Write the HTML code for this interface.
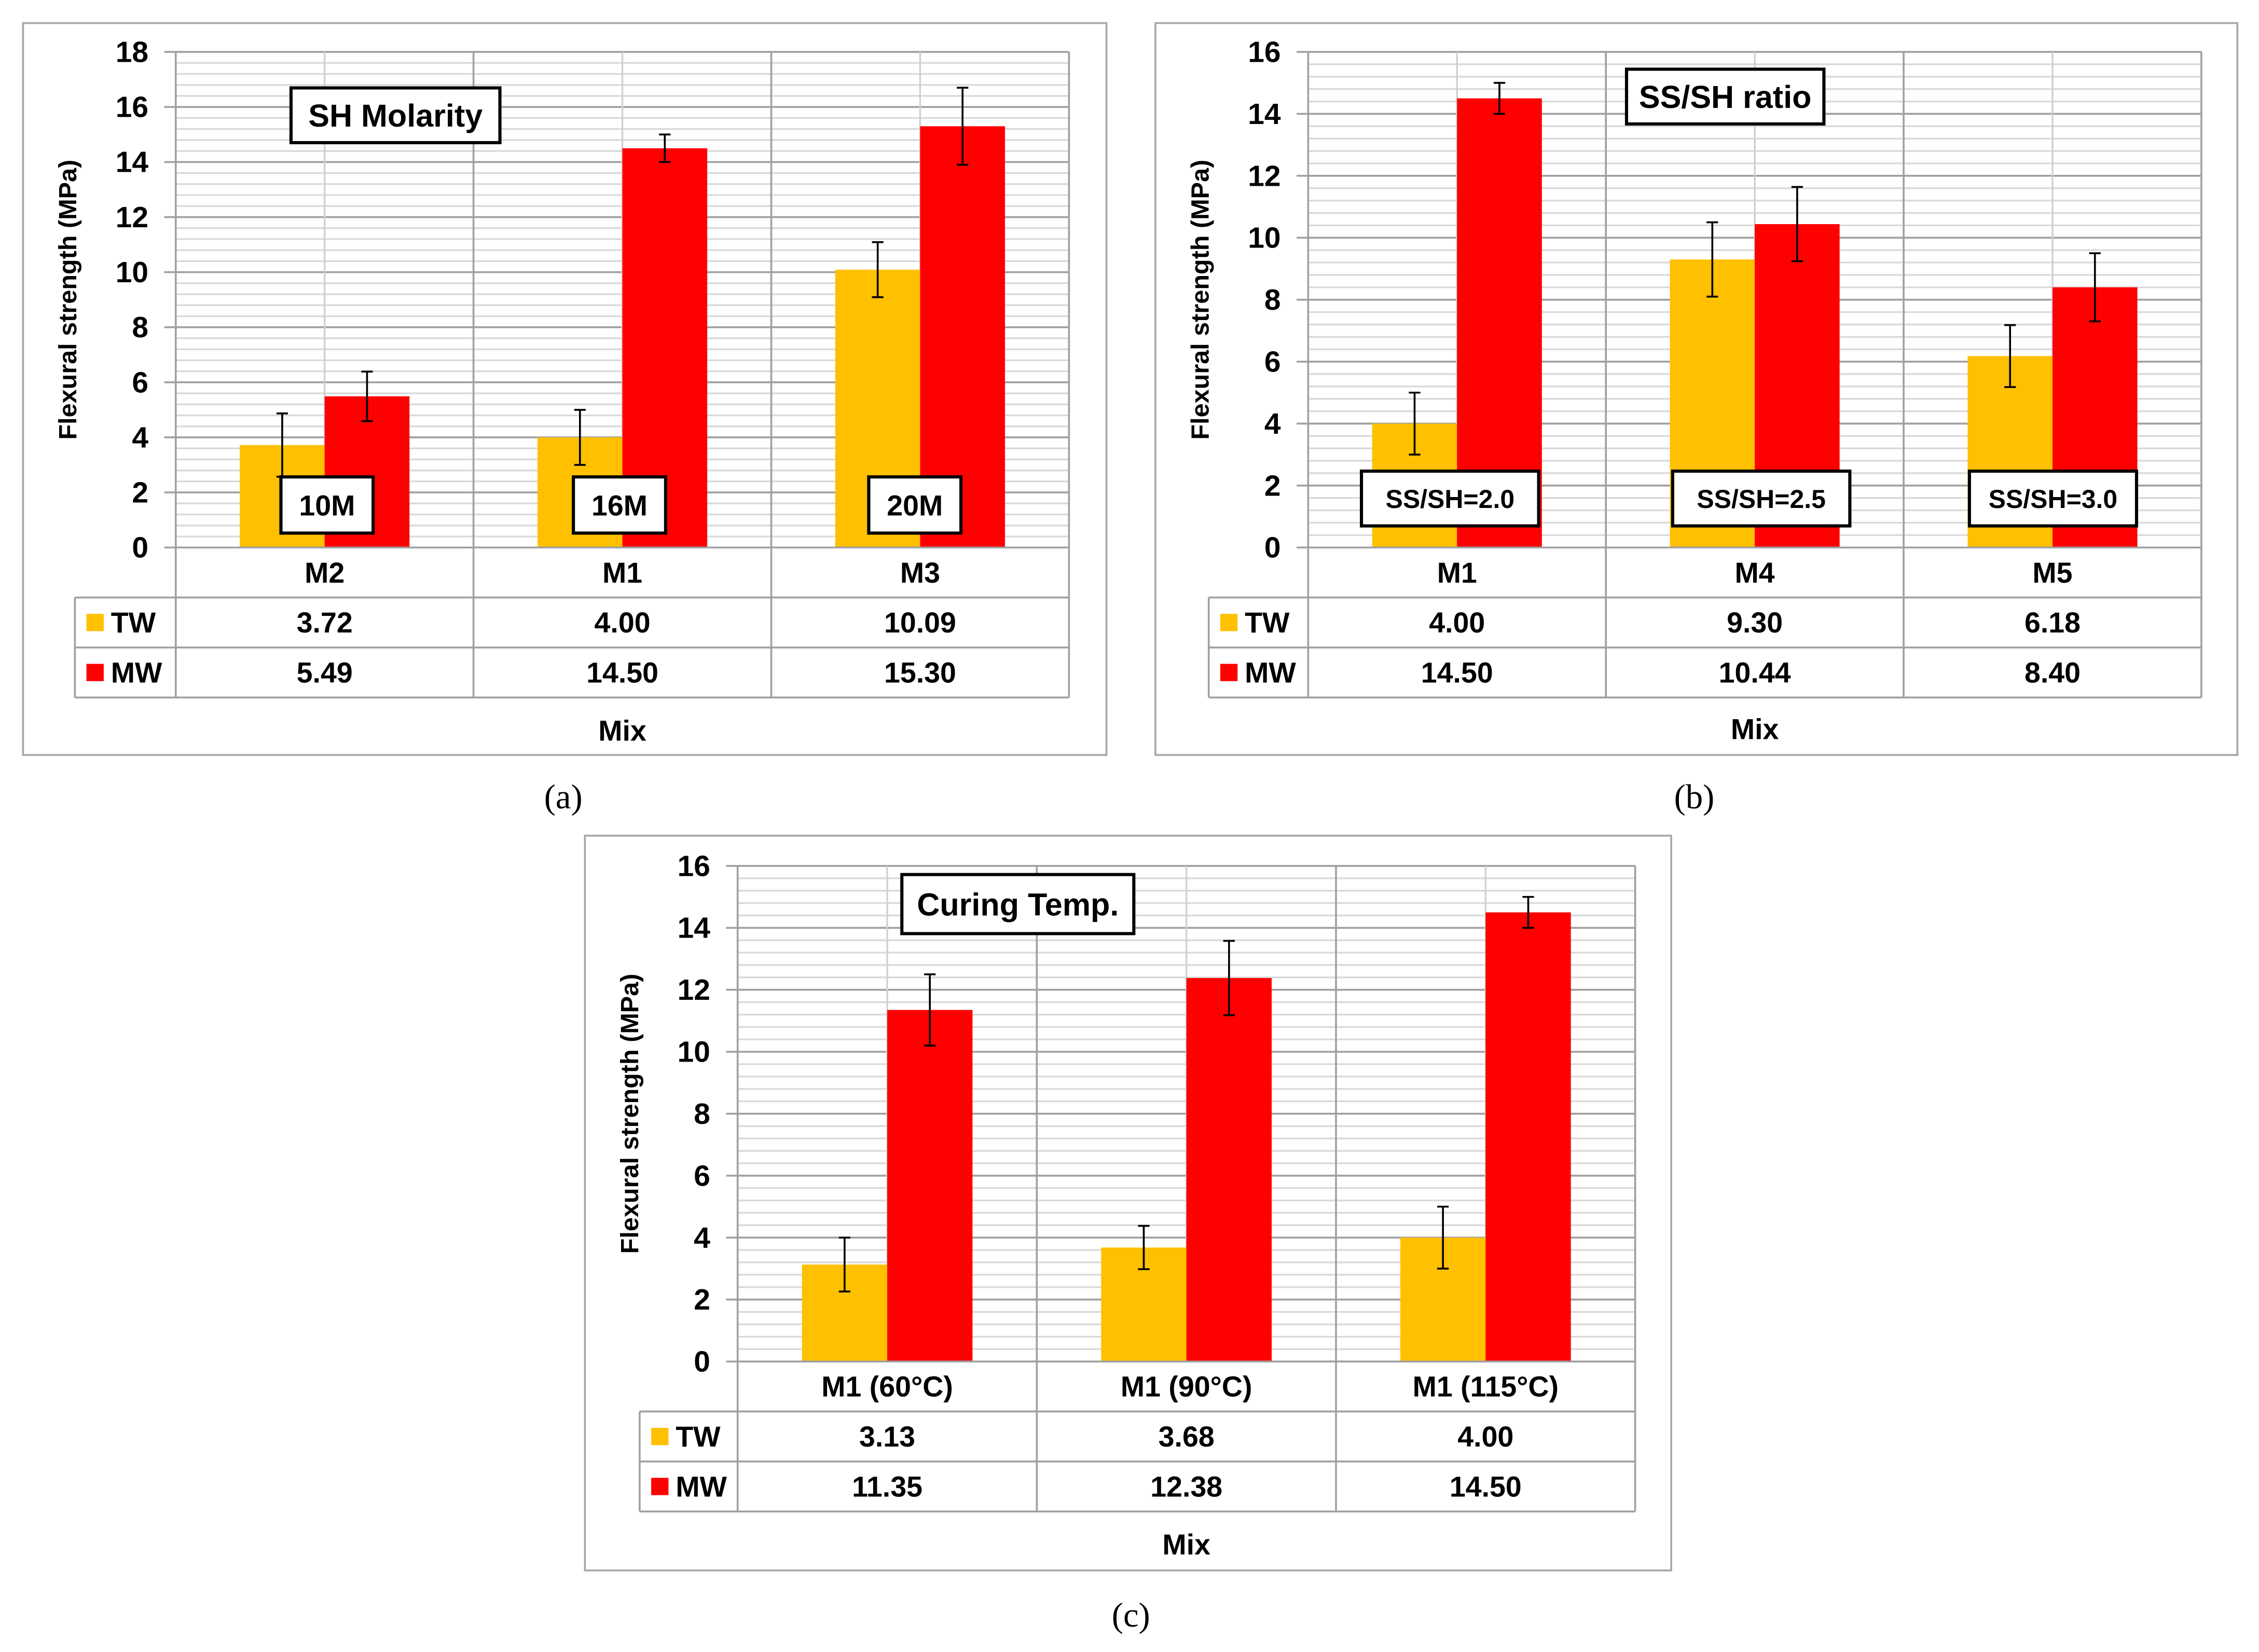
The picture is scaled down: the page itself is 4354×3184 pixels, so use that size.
<!DOCTYPE html>
<html><head><meta charset="utf-8">
<style>
html,body{margin:0;padding:0;background:#fff;}
svg{display:block;}
text{font-family:"Liberation Sans Narrow","Liberation Sans",sans-serif;font-weight:bold;fill:#000;}
</style></head>
<body>
<svg id="fig" width="4354" height="3184" viewBox="0 0 1568 1146.6" xmlns="http://www.w3.org/2000/svg"></svg>
<script>
// ---- Panel (a) data ----
const catsA = ["M2","M1","M3"];
const twA = [3.72, 4.00, 10.09];
const mwA = [5.49, 14.50, 15.30];
const twErrA = [1.15, 1.0, 1.0];
const mwErrA = [0.9, 0.5, 1.4];
const twLblA = ["3.72","4.00","10.09"];
const mwLblA = ["5.49","14.50","15.30"];
const ticksA = [0,2,4,6,8,10,12,14,16,18];
// ---- Panel (b) data ----
const catsB = ["M1","M4","M5"];
const twB = [4.00, 9.30, 6.18];
const mwB = [14.50, 10.44, 8.40];
const twErrB = [1.0, 1.2, 1.0];
const mwErrB = [0.5, 1.2, 1.1];
const twLblB = ["4.00","9.30","6.18"];
const mwLblB = ["14.50","10.44","8.40"];
const ticksB = [0,2,4,6,8,10,12,14,16];
// ---- Panel (c) data ----
const catsC = ["M1 (60°C)","M1 (90°C)","M1 (115°C)"];
const twC = [3.13, 3.68, 4.00];
const mwC = [11.35, 12.38, 14.50];
const twErrC = [0.87, 0.7, 1.0];
const mwErrC = [1.15, 1.2, 0.5];
const twLblC = ["3.13","3.68","4.00"];
const mwLblC = ["11.35","12.38","14.50"];
const ticksC = [0,2,4,6,8,10,12,14,16];

const NS = "http://www.w3.org/2000/svg";
const svg = document.getElementById("fig");
function mk(tag, attrs, parent, txt){
  const e = document.createElementNS(NS, tag);
  for (const k in attrs) e.setAttribute(k, attrs[k]);
  if (txt !== undefined) e.textContent = txt;
  (parent||svg).appendChild(e);
  return e;
}

function panel(cfg){
  const g = mk("g", {});
  
  
  const fr = mk("rect", {x:cfg.fx0, y:cfg.fy0, width:cfg.fx1-cfg.fx0, height:cfg.fy1-cfg.fy0, fill:"#fff", stroke:"#a6a6a6", "stroke-width":1.3}, g);
  
  
  const x0=cfg.x0, x1=cfg.x1, yT=cfg.yT, yB=cfg.yB, ymax=cfg.ticks[cfg.ticks.length-1];
  const Y = v => yB - v/ymax*(yB-yT);
  const cw = (x1-x0)/cfg.cats.length;
  const X = i => x0 + cw*(i+0.5);
  for (let v=0; v<=ymax+1e-6; v+=0.4){
    mk("line",{x1:x0,x2:x1,y1:Y(v),y2:Y(v),stroke:"#d9d9d9","stroke-width":1.2},g);
  }
  cfg.ticks.forEach(t=>{
    const l = mk("line",{x1:x0-8,x2:x1,y1:Y(t),y2:Y(t),stroke:"#a0a0a0","stroke-width":1.3},g);
    
    
    const tx = mk("text",{x:x0-19,y:Y(t)+7,"text-anchor":"end","font-size":20.5},g,String(t));
    
    
  });
  cfg.cats.forEach((c,i)=>{
    mk("line",{x1:X(i),x2:X(i),y1:yT,y2:yB,stroke:"#d0d0d0","stroke-width":1.2},g);
  });
  const bw = cw*0.285;
  cfg.cats.forEach((c,i)=>{
    const bt = mk("rect",{x:X(i)-bw,y:Y(cfg.tw[i]),width:bw,height:yB-Y(cfg.tw[i]),fill:"#ffc000"},g);
    
    
    const bm = mk("rect",{x:X(i),y:Y(cfg.mw[i]),width:bw,height:yB-Y(cfg.mw[i]),fill:"#ff0000"},g);
    
    
    [[X(i)-bw/2, cfg.tw[i], cfg.twE[i]],[X(i)+bw/2, cfg.mw[i], cfg.mwE[i]]].forEach(([ex,v,e])=>{
      const eg = mk("g",{stroke:"#000","stroke-width":1.3},g);
      
      
      mk("line",{x1:ex,x2:ex,y1:Y(v+e),y2:Y(v-e)},eg);
      mk("line",{x1:ex-4,x2:ex+4,y1:Y(v+e),y2:Y(v+e)},eg);
      mk("line",{x1:ex-4,x2:ex+4,y1:Y(v-e),y2:Y(v-e)},eg);
    });
  });
  const tl = cfg.tl, r0=yB, r1=yB+cfg.rh, r2=r1+cfg.rh, r3=r2+cfg.rh;
  const ls = {stroke:"#a0a0a0","stroke-width":1.3};
  mk("line",Object.assign({x1:x0,x2:x1,y1:yB,y2:yB},ls),g);
  [r1,r2,r3].forEach(y=>mk("line",Object.assign({x1:tl,x2:x1,y1:y,y2:y},ls),g));
  mk("line",Object.assign({x1:tl,x2:tl,y1:r1,y2:r3},ls),g);
  for (let i=0;i<=cfg.cats.length;i++){
    const xx = x0+cw*i;
    mk("line",Object.assign({x1:xx,x2:xx,y1:yT,y2:r3},ls),g);
  }
  cfg.cats.forEach((c,i)=>{
    const t1 = mk("text",{x:X(i),y:(r0+r1)/2+7,"text-anchor":"middle","font-size":20},g,c);
    
    
    const t2 = mk("text",{x:X(i),y:(r1+r2)/2+7,"text-anchor":"middle","font-size":20},g,cfg.twL[i]);
    
    
    const t3 = mk("text",{x:X(i),y:(r2+r3)/2+7,"text-anchor":"middle","font-size":20},g,cfg.mwL[i]);
    
    
  });
  [["TW","#ffc000",(r1+r2)/2],["MW","#ff0000",(r2+r3)/2]].forEach(([n,col,cy])=>{
    const lg = mk("g",{},g);
    
    
    mk("rect",{x:tl+8,y:cy-6,width:12,height:12,fill:col},lg);
    mk("text",{x:tl+25,y:cy+7,"font-size":20},lg,n);
  });
  const mx = mk("text",{x:(x0+x1)/2,y:cfg.mixY,"text-anchor":"middle","font-size":20},g,"Mix");
  
  
  const yt = mk("text",{x:0,y:0,"text-anchor":"middle",style:"font-family:'Liberation Sans',sans-serif;font-size:17.5px;font-weight:bold",transform:`translate(${cfg.ytx},${(yT+yB)/2}) rotate(-90)`},g,"Flexural strength (MPa)");
  
  
  cfg.boxes.forEach(b=>{
    const bg = mk("g",{},g);
    
    
    mk("rect",{x:b[0],y:b[1],width:b[2],height:b[3],fill:"#fff",stroke:"#000","stroke-width":2.2},bg);
    mk("text",{x:b[0]+b[2]/2,y:b[1]+b[3]/2+b[5]*0.36,"text-anchor":"middle","font-size":b[5]},bg,b[4]);
  });
  const cap = mk("text",{x:cfg.capX,y:cfg.capY,"text-anchor":"middle",style:"font-family:'Liberation Serif',serif;font-weight:normal;font-size:24px"},svg,cfg.cap);
  
  
}

panel({name:"panel-a",fx0:16,fy0:16,fx1:768,fy1:524,x0:122,x1:742,yT:36,yB:380,tl:52,rh:34.7,mixY:514,ytx:53,
  cats:catsA,tw:twA,mw:mwA,twE:twErrA,mwE:mwErrA,twL:twLblA,mwL:mwLblA,ticks:ticksA,
  boxes:[[202,61,145,38,"SH Molarity",22],[195,331,64,39,"10M",20],[398,331,64,39,"16M",20],[603,331,64,39,"20M",20]],
  cap:"(a)",capX:391,capY:561});
panel({name:"panel-b",fx0:802,fy0:16,fx1:1553,fy1:524,x0:908,x1:1528,yT:36,yB:380,tl:839,rh:34.7,mixY:513,ytx:839,
  cats:catsB,tw:twB,mw:mwB,twE:twErrB,mwE:mwErrB,twL:twLblB,mwL:mwLblB,ticks:ticksB,
  boxes:[[1129,48,137,38,"SS/SH ratio",22],[945,327,123,38,"SS/SH=2.0",18],[1161,327,123,38,"SS/SH=2.5",18],[1367,327,116,38,"SS/SH=3.0",18]],
  cap:"(b)",capX:1176,capY:561});
panel({name:"panel-c",fx0:406,fy0:580,fx1:1160,fy1:1090,x0:512,x1:1135,yT:601,yB:945,tl:444,rh:34.7,mixY:1079,ytx:443,
  cats:catsC,tw:twC,mw:mwC,twE:twErrC,mwE:mwErrC,twL:twLblC,mwL:mwLblC,ticks:ticksC,
  boxes:[[626,607,161,41,"Curing Temp.",22]],
  cap:"(c)",capX:785,capY:1129});
</script>
</body></html>
